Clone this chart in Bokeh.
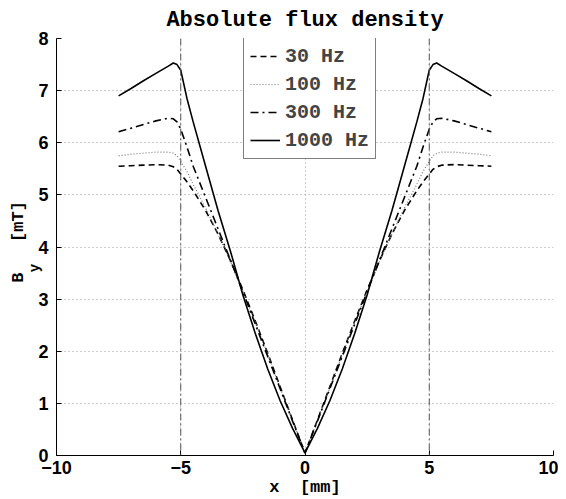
from bokeh.plotting import figure
from bokeh.models import Legend, LegendItem, Span, Title, FixedTicker, Range1d
from bokeh.embed import file_html
from bokeh.resources import INLINE

# ---- data ----
x_mm = [-7.5, -7, -6.5, -6, -5.5, -5.3, -5.15, -5, -4.75, -4.5, -4, -3.5, -3, -2.5, -2, -1.5, -1, -0.5, 0,
        0.5, 1, 1.5, 2, 2.5, 3, 3.5, 4, 4.5, 4.75, 5, 5.15, 5.3, 5.5, 6, 6.5, 7, 7.5]
b_30 = [5.55, 5.56, 5.57, 5.58, 5.57, 5.54, 5.49, 5.40, 5.25, 5.08, 4.70, 4.25, 3.74, 3.18, 2.58, 1.96, 1.32, 0.68, 0.05,
        0.68, 1.32, 1.96, 2.58, 3.18, 3.74, 4.25, 4.70, 5.08, 5.25, 5.40, 5.49, 5.54, 5.57, 5.58, 5.57, 5.56, 5.55]
b_100 = [5.75, 5.78, 5.80, 5.82, 5.82, 5.80, 5.75, 5.64, 5.45, 5.20, 4.75, 4.25, 3.72, 3.15, 2.56, 1.94, 1.30, 0.67, 0.05,
         0.67, 1.30, 1.94, 2.56, 3.15, 3.72, 4.25, 4.75, 5.20, 5.45, 5.64, 5.75, 5.80, 5.82, 5.82, 5.80, 5.78, 5.75]
b_300 = [6.21, 6.28, 6.35, 6.42, 6.47, 6.46, 6.40, 6.26, 5.92, 5.55, 4.95, 4.35, 3.75, 3.14, 2.52, 1.90, 1.28, 0.66, 0.05,
         0.66, 1.28, 1.90, 2.52, 3.14, 3.75, 4.35, 4.95, 5.55, 5.92, 6.26, 6.40, 6.46, 6.47, 6.42, 6.35, 6.28, 6.21]
b_1000 = [6.90, 7.04, 7.19, 7.33, 7.47, 7.53, 7.50, 7.39, 6.85, 6.40, 5.55, 4.70, 3.92, 3.08, 2.34, 1.66, 1.05, 0.52, 0.05,
          0.52, 1.05, 1.66, 2.34, 3.08, 3.92, 4.70, 5.55, 6.40, 6.85, 7.39, 7.50, 7.53, 7.47, 7.33, 7.19, 7.04, 6.90]
series_labels = ["30 Hz", "100 Hz", "300 Hz", "1000 Hz"]
boundary_x = [-5, 5]
x_ticks = [-10, -5, 0, 5, 10]
x_tick_labels = ["\u221210", "\u22125", "0", "5", "10"]
y_ticks = [0, 1, 2, 3, 4, 5, 6, 7, 8]

MONO = "Liberation Mono"
SANS = "Liberation Sans"
NB = "\u00a0"

p = figure(width=558, height=499, output_backend="svg", toolbar_location=None,
           x_range=Range1d(-10, 10), y_range=Range1d(0, 8),
           min_border_left=56, min_border_right=5, min_border_top=37, min_border_bottom=43)
p.outline_line_color = None
p.background_fill_color = "white"

# title
p.title.text = "Absolute flux density"
p.title.align = "center"
p.title.text_font = MONO
p.title.text_font_style = "bold"
p.title.text_font_size = "22px"
p.title.text_color = "black"
p.title.standoff = 11

# axes
for ax in (p.xaxis[0], p.yaxis[0]):
    ax.axis_line_color = "black"
    ax.axis_line_width = 1
    ax.major_tick_in = 5
    ax.major_tick_out = 0
    ax.minor_tick_line_color = None
    ax.major_label_text_font = SANS
    ax.major_label_text_font_style = "bold"
    ax.major_label_text_font_size = "18px"
    ax.major_label_text_color = "black"
    ax.axis_label_text_font = MONO
    ax.axis_label_text_font_style = "bold"
    ax.axis_label_text_color = "black"
p.xaxis.ticker = FixedTicker(ticks=x_ticks)
p.xaxis.major_label_overrides = {t: l for t, l in zip(x_ticks, x_tick_labels)}
p.xaxis.major_label_standoff = 5
p.xaxis.axis_label = "x" + NB + NB + "[mm]"
p.xaxis.axis_label_text_font_size = "17px"
p.xaxis.axis_label_standoff = 1
p.yaxis.ticker = FixedTicker(ticks=y_ticks)
p.yaxis.major_label_standoff = 8
p.yaxis.axis_label = "y" + NB * 5
p.yaxis.axis_label_text_font_size = "14px"
p.yaxis.axis_label_standoff = -8

# outer part of the y label: "B   [mT]"
p.add_layout(Title(text=NB + "B" + NB * 3 + "[mT]", align="center", standoff=-6,
                   text_font=MONO, text_font_style="bold", text_font_size="17px",
                   text_color="black"), "left")

# grid
for g in (p.xgrid[0], p.ygrid[0]):
    g.grid_line_color = "#9a9a9a"
    g.grid_line_dash = "1 3"
    g.grid_line_width = 1

# boundary markers
for bx in boundary_x:
    p.add_layout(Span(location=bx, dimension="height", line_color="#555555",
                      line_dash="7 3 2 3", line_width=1))

r30 = p.line(x_mm, b_30, line_color="black", line_width=1.6, line_dash="6 4")
r100 = p.line(x_mm, b_100, line_color="#777777", line_width=1.2, line_dash="1 2")
r300 = p.line(x_mm, b_300, line_color="black", line_width=1.6, line_dash="8 4 2 4")
r1000 = p.line(x_mm, b_1000, line_color="black", line_width=1.6)

legend = Legend(items=[LegendItem(label=series_labels[0], renderers=[r30]),
                       LegendItem(label=series_labels[1], renderers=[r100]),
                       LegendItem(label=series_labels[2], renderers=[r300]),
                       LegendItem(label=series_labels[3], renderers=[r1000])],
                location=(187, 296))
legend.label_text_font = MONO
legend.label_text_font_style = "bold"
legend.label_text_font_size = "20px"
legend.glyph_width = 30
legend.glyph_height = 24
legend.label_height = 24
legend.label_standoff = 5
legend.spacing = 4
legend.padding = 6
legend.margin = 0
legend.border_line_color = "black"
legend.border_line_width = 1
legend.background_fill_color = "white"
legend.background_fill_alpha = 1
p.add_layout(legend, "center")

open("out.html", "w").write(file_html(p, INLINE))
